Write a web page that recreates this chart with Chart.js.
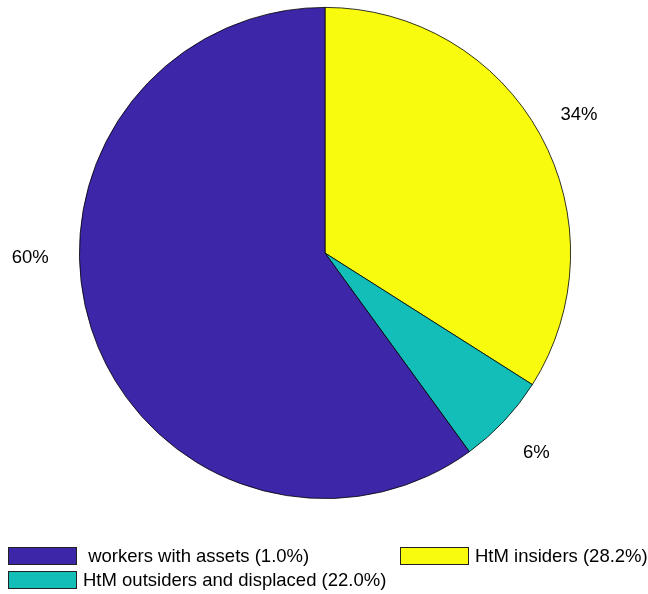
<!DOCTYPE html>
<html>
<head>
<meta charset="utf-8">
<script src="https://cdn.jsdelivr.net/npm/chart.js@4"></script>
<style>
  html, body { margin: 0; padding: 0; background: #fff; }
  canvas { display: block; }
</style>
</head>
<body>
<canvas id="pie" width="648" height="594"></canvas>
<script>
// slice order as in the legend (MATLAB draws them counter-clockwise from 12 o'clock)
const groups = ['workers with assets (1.0%)', 'HtM outsiders and displaced (22.0%)', 'HtM insiders (28.2%)'];
const shares = [60, 6, 34];
const sliceLabels = ['60%', '6%', '34%'];
const colors = ['#3E26A8', '#13BEB8', '#F9FB0E'];

const FONT = '18.5px "Liberation Sans", Arial, sans-serif';

// Chart.js goes clockwise, so feed it reversed
const rev = a => a.slice().reverse();

const outerLabels = {
    id: 'outerLabels',
    afterDatasetsDraw(chart) {
        const ctx = chart.ctx;
        const meta = chart.getDatasetMeta(0);
        ctx.save();
        ctx.font = FONT;
        ctx.fillStyle = '#000';
        ctx.textAlign = 'center';
        ctx.textBaseline = 'middle';
        meta.data.forEach((arc, j) => {
            const i = shares.length - 1 - j;
            const p = arc.getProps(['x', 'y', 'startAngle', 'endAngle', 'outerRadius'], true);
            let a = (p.startAngle + p.endAngle) / 2;
            let r = p.outerRadius * 1.18;
            let dy = 2;
            // the big slice's label sits level with the centre in the original
            if (i === 0) { a = Math.PI; r = p.outerRadius * 1.2; dy = 5; }
            ctx.fillText(sliceLabels[i], p.x + Math.cos(a) * r, p.y + Math.sin(a) * r + dy);
        });
        ctx.restore();
    }
};

const bottomLegend = {
    id: 'bottomLegend',
    afterDraw(chart) {
        const ctx = chart.ctx;
        // two columns, MATLAB-style: row 1 = items 0 and 2, row 2 = item 1
        const slots = [
            { i: 0, x: 8, y: 547, text: ' ' + groups[0] },
            { i: 2, x: 400, y: 547, text: groups[2] },
            { i: 1, x: 8, y: 571, text: groups[1] },
        ];
        ctx.save();
        ctx.font = FONT;
        ctx.textBaseline = 'middle';
        ctx.textAlign = 'left';
        slots.forEach(s => {
            ctx.fillStyle = colors[s.i];
            ctx.fillRect(s.x, s.y, 69, 18);
            ctx.strokeStyle = '#222';
            ctx.lineWidth = 1;
            ctx.strokeRect(s.x + 0.5, s.y + 0.5, 68, 17);
            ctx.fillStyle = '#000';
            ctx.fillText(s.text, s.x + 75, s.y + 10);
        });
        ctx.restore();
    }
};

new Chart(document.getElementById('pie'), {
    type: 'pie',
    data: {
        labels: rev(groups),
        datasets: [{
            data: rev(shares),
            backgroundColor: rev(colors),
            borderColor: '#000',
            borderWidth: 0.8,
        }],
    },
    options: {
        responsive: false,
        animation: false,
        layout: { padding: { left: 79, right: 77, top: 7, bottom: 95 } },
        plugins: {
            legend: { display: false },
            tooltip: { enabled: false },
        },
    },
    plugins: [outerLabels, bottomLegend],
});
</script>
</body>
</html>
